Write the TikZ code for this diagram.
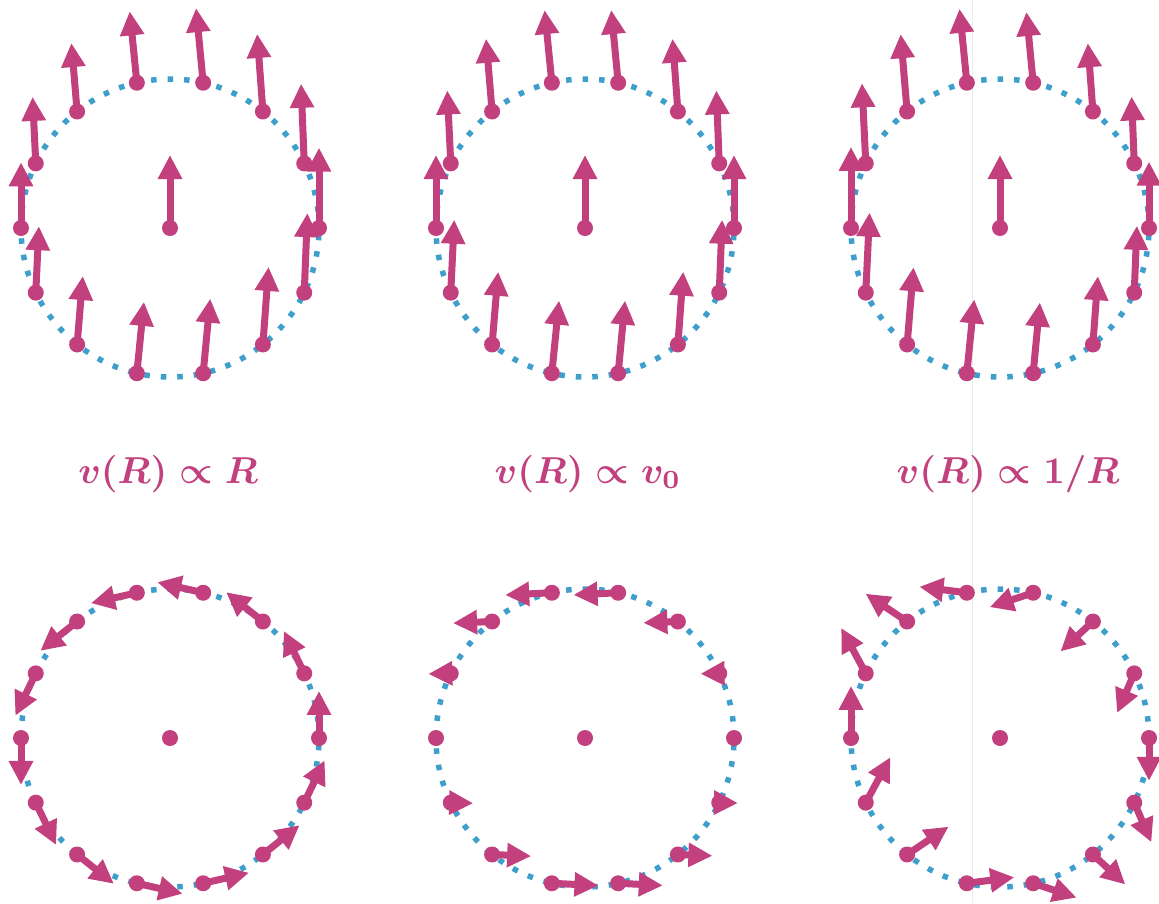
\documentclass[tikz,border=0pt]{standalone}
\usepackage{amsmath}
\usepackage{graphicx}
\usetikzlibrary{arrows.meta}
\definecolor{arrowpink}{RGB}{194,64,126}
\definecolor{ringblue}{RGB}{62,159,204}
\tikzset{
  ring/.style={draw=ringblue, line width=5.5pt, dash pattern=on 5.5pt off 11pt},
  vec/.style={draw=arrowpink, line width=7pt, -{Triangle[length=24pt,width=23pt]}},
  dotmark/.style={fill=arrowpink},
  labtext/.style={text=arrowpink, anchor=base, inner sep=0pt}
}
\newcommand{\biglab}[1]{\scalebox{3.75}{\boldmath$#1$}}
\begin{document}
\begin{tikzpicture}[x=1pt,y=1pt]
\useasboundingbox (0,-903) rectangle (1159,0);
\fill[white] (0,-903) rectangle (1159,0);
\draw[black!8, line width=1pt] (972,-903) -- (972,0);
\node[labtext] (l1) at (168,-483) {\biglab{v(R)\propto R}};
\node[labtext] (l2) at (588,-483) {\biglab{v(R)\propto v_0}};
\node[labtext] (l3) at (1008,-483) {\biglab{v(R)\propto 1/R}};
\foreach \pm/\pcx in {1/170,2/585,3/1000}{
  \draw[ring] (\pcx,-228) circle[radius=149];
  \draw[ring] (\pcx,-738) circle[radius=149];
  \coordinate (tc\pm) at (\pcx,-228);
  \coordinate (bc\pm) at (\pcx,-738);
  \coordinate (tce\pm) at (\pcx,-155);
  \draw[vec] (tc\pm) -- (tce\pm);
  \fill[dotmark] (tc\pm) circle[radius=8];
  \fill[dotmark] (bc\pm) circle[radius=8];
  \foreach \pk in {0,...,13}{
    \pgfmathsetmacro\pth{\pk*360/14}
    \pgfmathsetmacro\pco{cos(\pth)}
    \pgfmathsetmacro\psn{sin(\pth)}
    \pgfmathsetmacro\prr{101+20*\pco}
    \ifnum\pm=1 \def\pf{0.1}\fi
    \ifnum\pm=2 \pgfmathsetmacro\pf{1/sqrt(\prr)}\fi
    \ifnum\pm=3 \pgfmathsetmacro\pf{10/\prr}\fi
    \pgfmathsetmacro\pax{\pcx+149*\pco}
    \pgfmathsetmacro\pay{-228+149*\psn}
    \pgfmathsetmacro\pbx{\pcx+149*\pco}
    \pgfmathsetmacro\pby{-738+149*\psn}
    \pgfmathsetmacro\paex{\pax-73*\pf*\psn}
    \pgfmathsetmacro\paey{\pay+73*\pf*(10+\pco)}
    \pgfmathsetmacro\prx{-470*\pf*\psn}
    \pgfmathsetmacro\pry{470*(\pf*(10+\pco)-1)}
    \pgfmathsetmacro\pbex{\pbx+\prx}
    \pgfmathsetmacro\pbey{\pby+\pry}
    \pgfmathtruncatemacro\pok{(abs(\prx)+abs(\pry))>1 ? 1 : 0}
    \coordinate (a\pm-\pk) at (\pax,\pay);
    \coordinate (ae\pm-\pk) at (\paex,\paey);
    \draw[vec] (a\pm-\pk) -- (ae\pm-\pk);
    \fill[dotmark] (a\pm-\pk) circle[radius=8];
    \coordinate (b\pm-\pk) at (\pbx,\pby);
    \coordinate (be\pm-\pk) at (\pbex,\pbey);
    \ifnum\pok=1
      \draw[vec] (b\pm-\pk) -- (be\pm-\pk);
    \fi
    \fill[dotmark] (b\pm-\pk) circle[radius=8];
  }
}
\end{tikzpicture}
\end{document}
